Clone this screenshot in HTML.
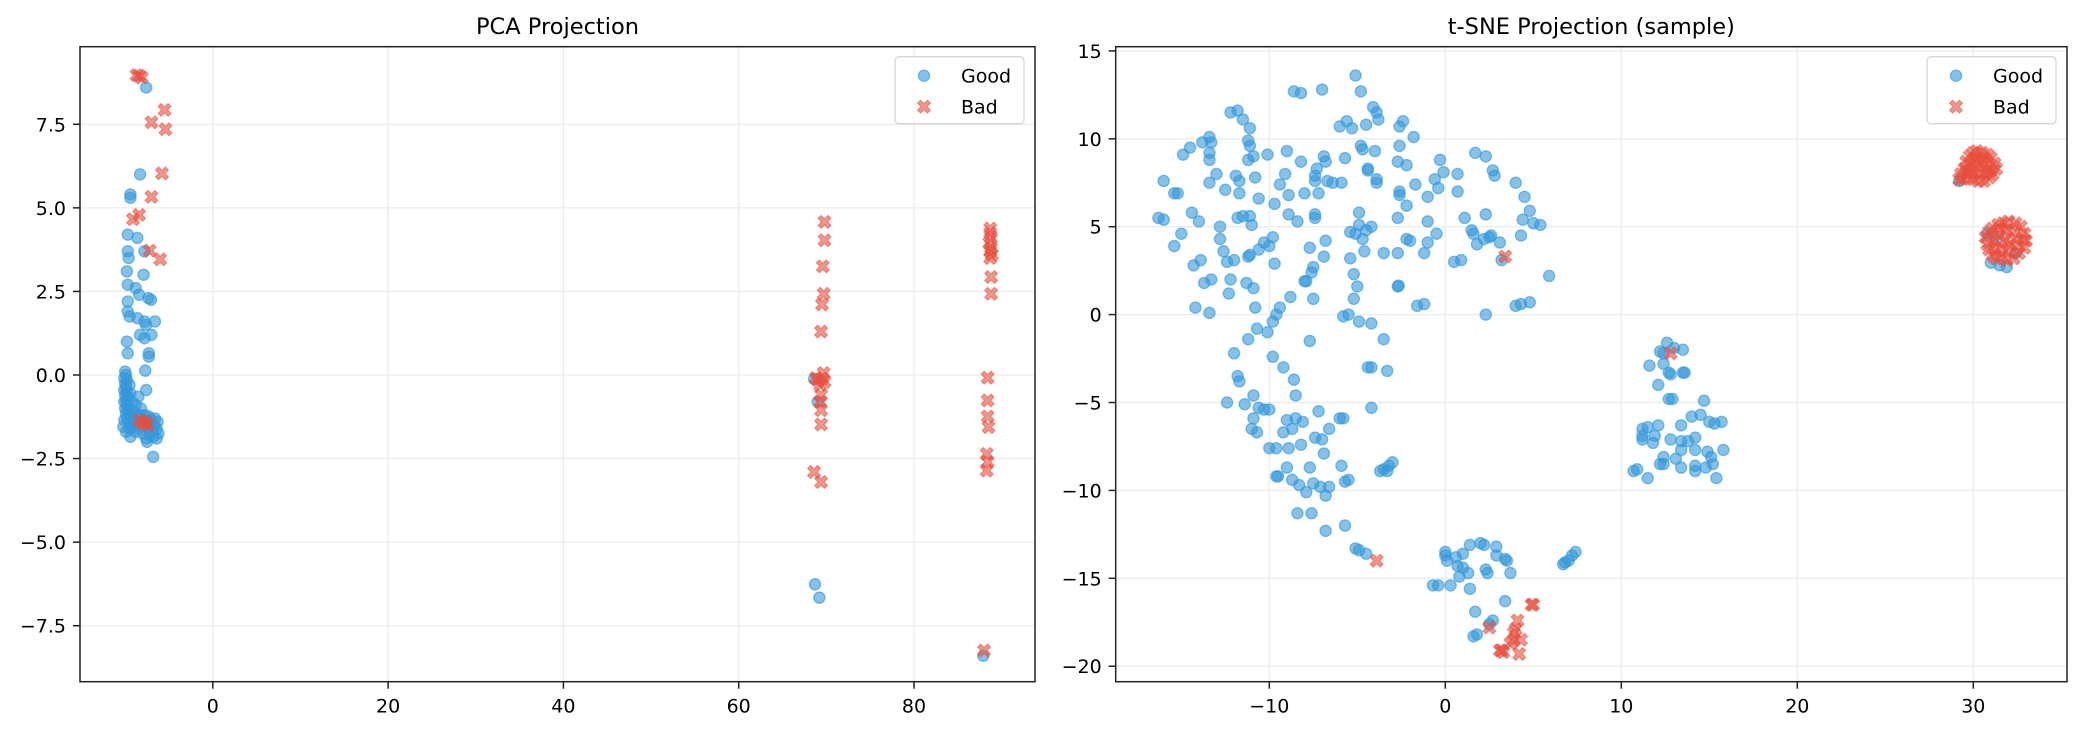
<!DOCTYPE html>
<html>
<head>
<meta charset="utf-8">
<style>
  html,body{margin:0;padding:0;background:#fff;}
  svg{display:block;}
  text{font-family:"DejaVu Sans","Liberation Sans",sans-serif;fill:#000;}
</style>
</head>
<body>
<svg id="chart" width="2085" height="732" viewBox="0 0 2085 732" xmlns="http://www.w3.org/2000/svg">
  <rect x="0" y="0" width="2085" height="732" fill="#fff"/>
  <g id="pca"></g>
  <g id="tsne"></g>
</svg>
<script>
// ---------- DATA ----------
const pcaXTicks = [0, 20, 40, 60, 80];
const pcaXTickLabels = ["0", "20", "40", "60", "80"];
const pcaYTicks = [7.5, 5.0, 2.5, 0.0, -2.5, -5.0, -7.5];
const pcaYTickLabels = ["7.5", "5.0", "2.5", "0.0", "\u22122.5", "\u22125.0", "\u22127.5"];

const pcaGood = [
[-7.6,8.6],[-8.3,6.0],[-9.4,5.4],[-9.4,5.3],[-9.7,4.2],[-8.6,4.1],[-7.8,3.7],[-9.7,3.7],[-9.6,3.5],[-9.8,3.1],
[-7.9,3.0],[-9.7,2.7],[-8.8,2.6],[-8.4,2.4],[-7.35,2.3],[-7.05,2.25],[-9.7,2.2],[-9.7,1.9],[-9.5,1.75],[-8.6,1.7],
[-7.8,1.6],[-6.6,1.6],[-7.6,1.5],[-8.3,1.2],[-7.0,1.2],[-7.8,1.1],[-9.8,1.0],[-9.7,0.65],[-7.3,0.65],[-7.3,0.55],[-7.7,0.13],
[-10.0,0.1],[-9.9,0.0],[-10.1,-0.1],[-9.8,-0.15],[-10.0,-0.25],[-9.9,-0.35],[-10.1,-0.45],[-9.8,-0.5],[-10.0,-0.6],[-9.7,-0.65],
[-9.9,-0.75],[-10.1,-0.8],[-9.8,-0.9],[-9.6,-0.95],[-10.0,-1.0],[-9.7,-1.05],[-9.9,-1.15],[-9.5,-1.2],[-9.8,-1.3],[-10.1,-1.35],
[-9.6,-1.4],[-9.3,-1.3],[-9.0,-1.1],[-8.8,-0.9],[-9.2,-0.8],[-9.4,-0.55],[-9.5,-0.3],[-9.5,-1.6],[-9.9,-1.7],[-9.2,-1.55],
[-8.9,-1.45],[-8.6,-1.25],[-8.3,-1.2],[-8.0,-1.3],[-7.7,-1.2],[-7.3,-1.25],[-7.0,-1.35],[-6.7,-1.5],[-6.4,-1.6],[-6.2,-1.75],
[-6.4,-1.9],[-6.8,-1.85],[-7.2,-1.8],[-7.6,-1.9],[-8.0,-1.75],[-8.4,-1.6],[-8.8,-1.7],[-7.4,-1.6],[-6.9,-1.65],[-6.3,-1.4],
[-6.6,-1.3],[-7.5,-2.0],[-6.8,-2.45],[-7.6,-0.45],[-8.5,-0.65],[-8.2,-1.0],[-10.2,-1.55],[-9.4,-1.85],
[68.6,-0.12],[69.0,-0.8],[68.7,-6.26],[69.2,-6.66],[87.9,-8.4]
];
const pcaBad = [
[-8.7,8.97],[-8.1,8.9],[-8.4,8.95],[-7.0,7.56],[-5.5,7.93],[-5.4,7.35],[-5.8,6.03],[-7.0,5.33],[-9.1,4.66],[-8.4,4.79],
[-7.2,3.72],[-6.0,3.46],[-8.4,-1.35],[-7.4,-1.5],[-8.0,-1.45],[-7.7,-1.4],
[69.8,4.58],[69.8,4.03],[69.6,3.25],[69.7,2.43],[69.5,2.11],[69.4,1.3],[69.7,0.06],[68.8,-0.09],[69.8,-0.2],[69.3,-0.3],
[69.0,-0.15],[69.5,-0.1],[69.4,-0.6],[69.3,-0.8],[69.4,-1.05],[69.4,-1.48],[68.6,-2.9],[69.4,-3.2],
[88.7,4.38],[88.7,4.25],[88.8,4.1],[88.6,3.95],[88.8,3.8],[88.7,3.7],[88.9,3.6],[88.7,3.5],[88.8,2.93],[88.8,2.43],
[88.4,-0.08],[88.4,-0.76],[88.4,-1.24],[88.5,-1.56],[88.3,-2.36],[88.4,-2.6],[88.3,-2.86],[88.0,-8.24]
];

const tsneXTicks = [-10, 0, 10, 20, 30];
const tsneXTickLabels = ["\u221210", "0", "10", "20", "30"];
const tsneYTicks = [15, 10, 5, 0, -5, -10, -15, -20];
const tsneYTickLabels = ["15", "10", "5", "0", "\u22125", "\u221210", "\u221215", "\u221220"];

const tsneGood = [
[-5.1,13.6],[-8.6,12.7],[-8.2,12.6],[-7.0,12.8],[-4.8,12.7],[-12.2,11.5],[-11.8,11.6],[-11.5,11.1],[-11.1,10.6],[-4.1,11.8],
[-3.9,11.5],[-3.8,11.1],[-6.0,10.7],[-5.6,11.0],[-5.3,10.6],[-4.5,10.8],[-2.6,10.7],[-2.4,11.0],[-1.8,10.1],[-13.8,9.8],
[-13.4,10.1],[-13.3,9.8],[-14.5,9.5],[-14.9,9.1],[-13.4,9.2],[-13.4,8.8],[-11.2,9.9],[-11.1,9.6],[-10.9,9.0],[-11.2,8.8],
[-10.1,9.1],[-9.0,9.3],[-8.2,8.7],[-6.9,9.0],[-6.8,8.7],[-7.3,8.3],[-7.4,7.9],[-7.4,7.6],[-6.7,7.6],[-6.4,7.5],
[-5.9,7.5],[-5.7,8.9],[-4.8,9.6],[-4.7,9.4],[-4.0,9.3],[-2.6,9.6],[-2.7,8.7],[-2.2,8.5],[-4.4,8.3],[-4.4,8.2],
[-3.9,7.7],[-3.9,7.5],[-0.3,8.8],[-0.1,8.1],[-0.6,7.7],[-0.4,7.2],[-1.7,7.4],[-2.6,7.0],[-2.6,6.8],[-1.0,6.7],
[-2.2,6.2],[-16.0,7.6],[-15.4,6.9],[-15.2,6.9],[-13.0,8.0],[-11.9,7.9],[-11.7,7.6],[-13.4,7.5],[-12.5,7.1],[-11.7,6.9],
[-10.8,7.8],[-10.6,6.6],[-9.7,6.3],[-9.1,8.0],[-9.4,7.4],[-8.9,6.8],[-8.0,6.9],[-7.2,6.9],[-16.3,5.5],[-16.0,5.4],
[-14.4,5.8],[-14.0,5.3],[-12.8,5.0],[-12.8,4.3],[-11.8,5.5],[-11.5,5.6],[-11.1,5.6],[-11.0,5.1],[-8.9,5.7],[-8.4,5.3],
[-7.4,5.7],[-7.4,5.5],[-4.9,5.8],[-4.9,5.1],[-5.4,4.7],[-5.1,4.6],[-4.5,4.8],[-4.2,5.0],[-4.7,4.3],[-4.6,3.6],
[-2.7,5.5],[-1.0,5.3],[-0.5,4.6],[-1.0,4.1],[-1.2,3.5],[-2.2,4.3],[-2.0,4.2],[-2.7,3.5],[-3.5,3.5],[-15.0,4.6],
[-15.4,3.9],[-12.6,3.6],[-12.4,3.0],[-12.0,3.1],[-11.2,3.3],[-11.1,3.4],[-10.6,3.7],[-10.3,4.1],[-10.0,3.9],[-9.8,4.4],
[-9.7,2.9],[-7.7,3.8],[-6.8,4.2],[-6.9,3.3],[-14.3,2.8],[-13.9,3.1],[-13.7,1.8],[-13.3,2.0],[-12.2,2.0],[-12.3,1.2],
[-11.3,1.8],[-10.9,1.5],[-14.2,0.4],[-13.4,0.1],[-10.8,0.4],[-9.4,0.4],[-9.6,0.0],[-9.8,-0.4],[-10.7,-0.8],[-10.1,-1.0],
[-11.2,-1.4],[-8.8,1.0],[-8.0,1.9],[-7.9,1.9],[-7.6,2.4],[-7.5,2.7],[-7.5,0.9],[-5.4,3.2],[-5.2,2.3],[-5.0,1.6],
[-5.2,0.9],[-2.7,1.6],[-2.65,1.65],[-1.6,0.5],[-1.2,0.6],[-5.8,-0.1],[-5.5,0.0],[-4.9,-0.4],[-4.2,-0.5],[-7.7,-1.5],
[-3.5,-1.4],[-12.0,-2.2],[-9.8,-2.4],
[0.7,8.0],[0.7,7.0],[1.7,9.2],[2.3,9.0],[2.7,8.2],[2.8,7.9],[4.0,7.5],[4.5,6.7],[4.8,5.9],[4.4,5.4],
[5.0,5.2],[5.4,5.1],[4.3,4.5],[3.1,4.1],[2.6,4.5],[2.5,4.4],[2.2,4.3],[1.8,4.0],[1.5,4.8],[1.6,4.6],
[1.1,5.5],[2.3,5.7],[0.5,3.0],[0.9,3.1],[3.2,3.1],[5.9,2.2],[4.0,0.5],[4.3,0.6],[4.8,0.7],[2.3,0.0],
[-9.2,-3.0],[-8.6,-3.7],[-11.8,-3.5],[-11.7,-3.8],[-8.5,-4.6],[-10.9,-4.6],[-12.4,-5.0],[-11.4,-5.1],[-10.6,-5.3],[-10.3,-5.4],
[-10.0,-5.4],[-10.9,-5.9],[-11.0,-6.5],[-10.7,-6.7],[-9.0,-6.0],[-8.5,-5.9],[-8.1,-6.1],[-8.7,-6.5],[-9.2,-6.7],[-7.2,-5.5],
[-6.6,-6.5],[-6.0,-5.9],[-5.8,-5.9],[-7.4,-7.0],[-7.0,-7.1],[-6.9,-7.9],[-10.0,-7.6],[-9.6,-7.6],[-8.9,-7.6],[-8.2,-7.4],
[-9.0,-8.7],[-7.7,-8.7],[-5.9,-8.6],[-9.6,-9.2],[-9.5,-9.2],[-8.7,-9.4],[-8.3,-9.7],[-7.9,-10.1],[-7.5,-9.6],[-7.1,-9.8],
[-6.6,-9.8],[-6.8,-10.3],[-5.7,-9.5],[-5.5,-9.4],[-8.4,-11.3],[-7.6,-11.3],[-6.8,-12.3],[-5.7,-12.0],[-5.1,-13.3],[-4.9,-13.4],
[-4.5,-13.6],[-4.4,-3.0],[-4.2,-3.0],[-3.3,-3.2],[-4.2,-5.3],[-3.7,-8.9],[-3.5,-8.8],[-3.2,-8.6],[-3.0,-8.4],[-3.3,-8.9],
[12.6,-1.6],[12.2,-2.1],[12.4,-2.2],[13.0,-1.9],[13.5,-2.0],[11.6,-2.9],[12.4,-2.8],[12.7,-3.3],[12.8,-3.4],[13.5,-3.3],
[13.6,-3.3],[12.1,-4.0],[12.7,-4.8],[12.9,-4.8],[14.7,-4.9],[14.0,-5.8],[14.5,-5.7],[15.0,-6.1],[15.3,-6.2],[15.7,-6.1],
[11.2,-6.5],[11.5,-6.4],[12.1,-6.3],[11.2,-6.9],[11.2,-7.1],[11.9,-6.9],[11.8,-7.3],[13.4,-6.3],[12.8,-7.1],[13.4,-7.2],
[13.8,-7.2],[14.2,-7.0],[13.4,-7.7],[14.2,-7.7],[14.9,-7.8],[15.1,-8.1],[15.8,-7.7],[12.4,-8.1],[12.2,-8.5],[12.4,-8.5],
[13.1,-8.2],[13.4,-8.7],[14.2,-8.6],[14.2,-8.9],[14.8,-8.7],[15.2,-8.5],[10.7,-8.9],[10.9,-8.8],[11.5,-9.3],[15.4,-9.3],
[0.0,-13.5],[0.0,-13.7],[0.6,-13.8],[1.0,-13.6],[1.4,-13.1],[2.0,-13.0],[2.2,-13.1],[2.9,-13.2],[2.9,-13.7],[3.4,-13.9],
[3.5,-14.0],[0.1,-14.0],[0.7,-14.3],[1.0,-14.4],[1.3,-14.7],[0.8,-14.9],[2.3,-14.5],[2.4,-14.7],[3.7,-14.7],[-0.7,-15.4],
[-0.4,-15.4],[0.3,-15.4],[1.4,-15.6],[3.4,-16.3],[1.7,-16.9],[2.7,-17.4],[2.5,-17.6],[1.6,-18.3],[1.8,-18.2],[6.7,-14.2],
[6.8,-14.1],[7.0,-14.0],[7.2,-13.7],[7.4,-13.5],
[29.2,7.6],[30.8,4.6],[31.3,4.3],[32.4,3.5],[31.0,2.95],[31.5,2.8],[31.9,2.7]
];
const tsneBad = [
[3.4,3.3],[-3.9,-14.0],[12.8,-2.2],
[4.9,-16.5],[5.0,-16.5],[4.1,-17.4],[2.5,-17.8],[3.9,-18.1],[4.3,-18.5],[3.7,-18.7],[3.2,-19.1],[3.3,-19.2],[4.2,-19.3],
[3.9,-18.5],[4.0,-17.9],[3.1,-19.1],
[29.3,8.0],[29.5,8.3],[29.6,8.7],[29.8,9.0],[30.0,9.2],[30.2,9.3],[30.5,9.2],[30.8,9.1],[31.0,8.9],[31.2,8.6],
[31.3,8.3],[31.1,8.0],[30.9,7.8],[30.6,7.6],[30.3,7.6],[30.0,7.7],[29.7,7.8],[29.4,7.7],[29.9,8.2],[30.2,8.4],
[30.5,8.6],[30.8,8.4],[30.4,8.0],[30.1,8.9],[29.8,8.5],[30.6,8.9],[31.0,8.2],[30.3,8.7],[29.6,8.1],[30.7,8.1],
[29.2,7.7],[30.0,8.0],
[30.7,4.4],[30.8,4.0],[30.9,3.7],[31.1,3.4],[31.3,3.2],[31.6,3.3],[31.9,3.1],[32.3,3.2],[32.6,3.5],[32.9,3.8],
[33.0,4.2],[32.9,4.6],[32.7,5.0],[32.4,5.2],[32.0,5.3],[31.7,5.2],[31.4,5.1],[31.1,4.9],[30.9,4.7],[31.5,4.5],
[31.8,4.2],[32.1,4.0],[32.4,4.3],[32.2,4.7],[31.6,3.8],[31.2,4.2],[32.5,3.9],[31.9,4.8],[31.3,3.7],[32.8,4.3],
[32.0,3.6],[31.5,4.9]
];

// ---------- DRAW ----------
const NS = "http://www.w3.org/2000/svg";
const GOOD = "#3498db", BAD = "#e74c3c";

function mk(tag, attrs, parent) {
  const e = document.createElementNS(NS, tag);
  for (const k in attrs) e.setAttribute(k, attrs[k]);
  parent.appendChild(e);
  return e;
}
function xMarkPoints(cx, cy) {
  const w = 2.1, L = 7.0, c = Math.SQRT1_2;
  const pts = [[-w,-L],[w,-L],[w,-w],[L,-w],[L,w],[w,w],[w,L],[-w,L],[-w,w],[-L,w],[-L,-w],[-w,-w]];
  return pts.map(p => ((p[0]-p[1])*c + cx).toFixed(2) + "," + ((p[0]+p[1])*c + cy).toFixed(2)).join(" ");
}

function panel(g, cfg) {
  const sx = v => cfg.x0px + (v - cfg.x0v) * cfg.kx;
  const sy = v => cfg.y0px - (v - cfg.y0v) * cfg.ky;
  const L = cfg.left, R = cfg.right, T = cfg.top, B = cfg.bottom;

  const grid = mk("g", {}, g);
  
  
  cfg.xt.forEach(v => {
    const ln = mk("line", {x1: sx(v), x2: sx(v), y1: T, y2: B, stroke: "#ececec", "stroke-width": 1.3}, grid);
    
    
  });
  cfg.yt.forEach(v => {
    const ln = mk("line", {x1: L, x2: R, y1: sy(v), y2: sy(v), stroke: "#ececec", "stroke-width": 1.3}, grid);
    
    
  });

  const clip = "clip-" + cfg.id;
  const cp = mk("clipPath", {id: clip}, g);
  mk("rect", {x: L, y: T, width: R - L, height: B - T}, cp);

  const gg = mk("g", {"clip-path": "url(#" + clip + ")"}, g);
  
  
  cfg.good.forEach(p => {
    const c = mk("circle", {cx: sx(p[0]), cy: sy(p[1]), r: 5.6, fill: GOOD, "fill-opacity": 0.6, stroke: GOOD, "stroke-opacity": 0.6, "stroke-width": 1.3}, gg);
    
    
  });
  const gb = mk("g", {"clip-path": "url(#" + clip + ")"}, g);
  
  
  cfg.bad.forEach(p => {
    const m = mk("polygon", {points: xMarkPoints(sx(p[0]), sy(p[1])), fill: BAD, "fill-opacity": 0.6, stroke: BAD, "stroke-opacity": 0.6, "stroke-width": 1}, gb);
    
    
  });

  const frame = mk("rect", {x: L, y: T, width: R - L, height: B - T, fill: "none", stroke: "#222", "stroke-width": 1.5}, g);
  
  

  cfg.xt.forEach((v, i) => {
    const t = mk("line", {x1: sx(v), x2: sx(v), y1: B, y2: B + 7, stroke: "#222", "stroke-width": 1.5}, g);
    
    
    const tx = mk("text", {x: sx(v), y: B + 31, "text-anchor": "middle", "font-size": 19}, g);
    tx.textContent = cfg.xl[i];
    
    
  });
  cfg.yt.forEach((v, i) => {
    const t = mk("line", {x1: L - 7, x2: L, y1: sy(v), y2: sy(v), stroke: "#222", "stroke-width": 1.5}, g);
    
    
    const tx = mk("text", {x: L - 14, y: sy(v) + 7, "text-anchor": "end", "font-size": 19}, g);
    tx.textContent = cfg.yl[i];
    
    
  });

  const title = mk("text", {x: (L + R) / 2, y: 34, "text-anchor": "middle", "font-size": 22.5}, g);
  title.textContent = cfg.title;
  
  

  const lg = mk("g", {}, g);
  
  
  const lx = R - 140;
  mk("rect", {x: lx, y: T + 10, width: 129, height: 67, rx: 4, fill: "#fff", "fill-opacity": 0.8, stroke: "#d5d5d5", "stroke-width": 1.3}, lg);
  const e1 = mk("g", {}, lg);
  
  
  mk("circle", {cx: lx + 29, cy: T + 29, r: 5.6, fill: GOOD, "fill-opacity": 0.6, stroke: GOOD, "stroke-opacity": 0.6, "stroke-width": 1.3}, e1);
  const t1 = mk("text", {x: lx + 66, y: T + 36, "font-size": 19}, e1);
  t1.textContent = "Good";
  const e2 = mk("g", {}, lg);
  
  
  mk("polygon", {points: xMarkPoints(lx + 29, T + 60), fill: BAD, "fill-opacity": 0.6, stroke: BAD, "stroke-opacity": 0.6, "stroke-width": 1}, e2);
  const t2 = mk("text", {x: lx + 66, y: T + 67, "font-size": 19}, e2);
  t2.textContent = "Bad";
}

panel(document.getElementById("pca"), {
  id: "pca", title: "PCA Projection",
  left: 80, right: 1035, top: 46.7, bottom: 681.7,
  x0px: 212.8, x0v: 0, kx: 8.765, y0px: 375, y0v: 0, ky: 33.43,
  xt: pcaXTicks, xl: pcaXTickLabels, yt: pcaYTicks, yl: pcaYTickLabels,
  good: pcaGood, bad: pcaBad
});
panel(document.getElementById("tsne"), {
  id: "tsne", title: "t-SNE Projection (sample)",
  left: 1115.7, right: 2067, top: 46.7, bottom: 681.7,
  x0px: 1445.3, x0v: 0, kx: 17.6, y0px: 314.6, y0v: 0, ky: 17.58,
  xt: tsneXTicks, xl: tsneXTickLabels, yt: tsneYTicks, yl: tsneYTickLabels,
  good: tsneGood, bad: tsneBad
});
</script>
</body>
</html>
